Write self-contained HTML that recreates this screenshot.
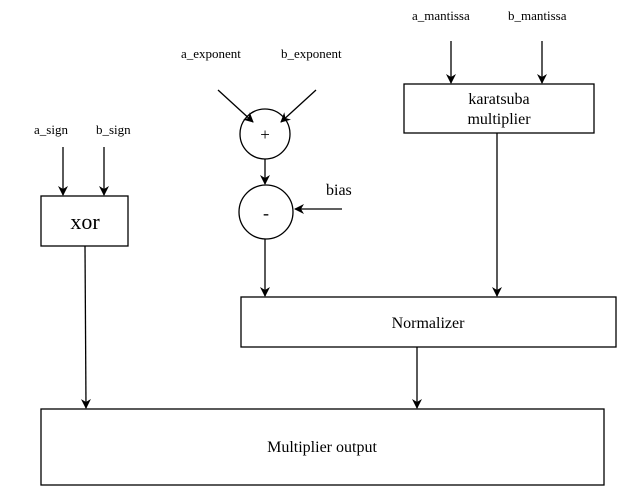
<!DOCTYPE html>
<html><head><style>
body{margin:0;background:#fff;}
svg text{font-family:"Liberation Serif",serif;fill:#000;}
</style></head><body>
<svg width="637" height="499" xmlns="http://www.w3.org/2000/svg">
<defs><marker id="a" markerWidth="10" markerHeight="10" refX="9" refY="5" orient="auto" markerUnits="userSpaceOnUse"><path d="M0,0 L10,5 L0,10 L3,5 z" fill="#000"/></marker></defs>
<g stroke="#000" stroke-width="1.3" fill="none">
<rect x="404" y="84" width="190" height="49"/>
<rect x="41" y="196" width="87" height="50"/>
<rect x="241" y="297" width="375" height="50"/>
<rect x="41" y="409" width="563" height="76"/>
<circle cx="265" cy="134" r="25"/>
<circle cx="266" cy="212" r="27"/>
<line x1="451" y1="41" x2="451" y2="83" marker-end="url(#a)"/>
<line x1="542" y1="41" x2="542" y2="83" marker-end="url(#a)"/>
<line x1="497" y1="133" x2="497" y2="296" marker-end="url(#a)"/>
<line x1="218" y1="90" x2="253" y2="122" marker-end="url(#a)"/>
<line x1="316" y1="90" x2="281" y2="122" marker-end="url(#a)"/>
<line x1="265" y1="159" x2="265" y2="184" marker-end="url(#a)"/>
<line x1="342" y1="209" x2="295" y2="209" marker-end="url(#a)"/>
<line x1="265" y1="239" x2="265" y2="296" marker-end="url(#a)"/>
<line x1="63" y1="147" x2="63" y2="195" marker-end="url(#a)"/>
<line x1="104" y1="147" x2="104" y2="195" marker-end="url(#a)"/>
<line x1="85" y1="246" x2="86" y2="408" marker-end="url(#a)"/>
<line x1="417" y1="347" x2="417" y2="408" marker-end="url(#a)"/>
</g>
<g font-size="13">
<text x="412" y="20">a_mantissa</text>
<text x="508" y="20">b_mantissa</text>
<text x="181" y="58">a_exponent</text>
<text x="281" y="58">b_exponent</text>
<text x="34" y="134">a_sign</text>
<text x="96" y="134">b_sign</text>
</g>
<text x="326" y="195" font-size="16">bias</text>
<text x="499" y="104" font-size="16" text-anchor="middle">karatsuba</text>
<text x="499" y="124" font-size="16" text-anchor="middle">multiplier</text>
<text x="85" y="229" font-size="22" text-anchor="middle">xor</text>
<text x="265" y="140" font-size="17" text-anchor="middle">+</text>
<text x="266" y="219" font-size="18" text-anchor="middle">-</text>
<text x="428" y="328" font-size="16" text-anchor="middle">Normalizer</text>
<text x="322" y="452" font-size="16" text-anchor="middle">Multiplier output</text>
</svg>
</body></html>
